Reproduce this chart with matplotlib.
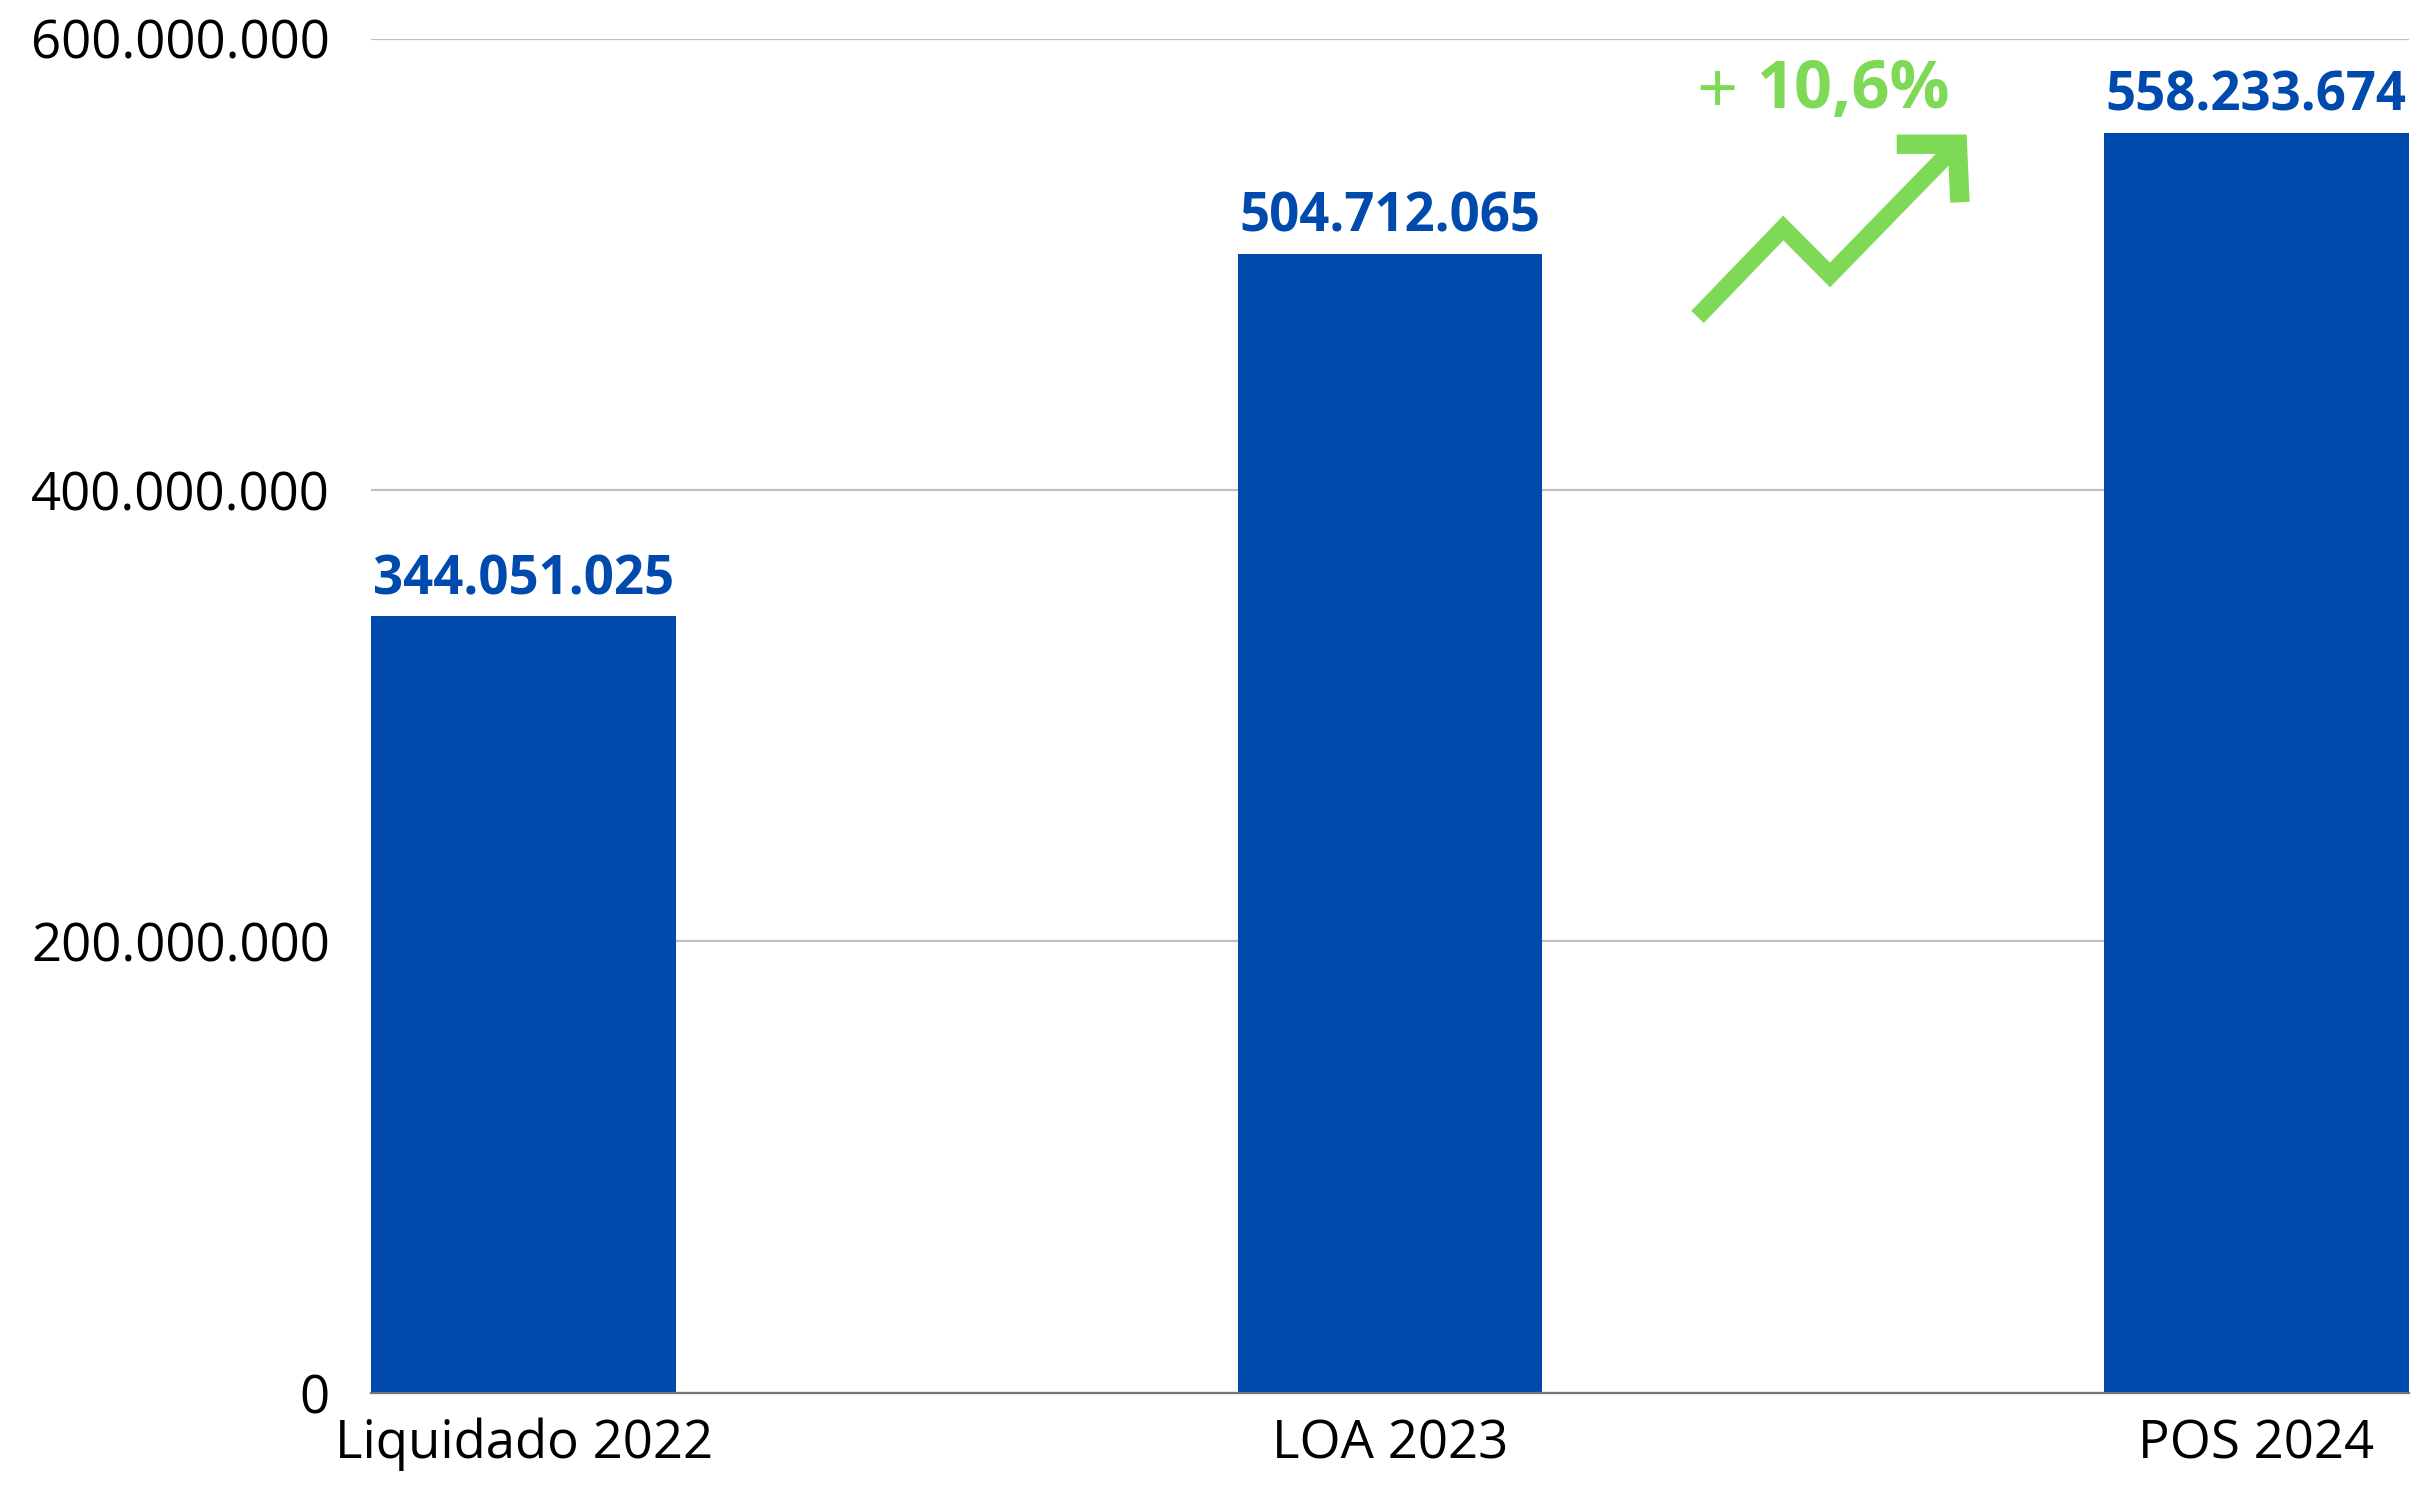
import matplotlib
matplotlib.use("Agg")
import matplotlib.pyplot as plt
from matplotlib.ticker import FuncFormatter

categories = ["Liquidado 2022", "LOA 2023", "POS 2024"]
values = [344051025, 504712065, 558233674]
value_labels = ["344.051.025", "504.712.065", "558.233.674"]
growth_label = "10,6%"
yticks = [0, 200000000, 400000000, 600000000]

blue = "#004AAD"
green = "#7ED957"
plt.rcParams['font.family'] = ['Open Sans', 'DejaVu Sans']

def thousands(v, pos):
    return f"{int(v):,}".replace(",", ".")

fig = plt.figure(figsize=(24.28, 14.85), dpi=100)
ax = fig.add_axes([0.153, 0.062, 0.839, 0.912])

w = 0.352
x = range(len(categories))
bars = ax.bar(x, values, width=w, color=blue, zorder=3)

for b, lab in zip(bars, value_labels):
    ax.annotate(lab, (b.get_x() + b.get_width() / 2, b.get_height()),
                xytext=(0, 16), textcoords="offset points",
                ha="center", va="baseline", fontsize=38, fontweight="bold",
                color=blue)

ax.set_xlim(-w / 2, len(categories) - 1 + w / 2)
ax.set_ylim(0, 600000000)
ax.set_yticks(yticks)
ax.yaxis.set_major_formatter(FuncFormatter(thousands))
ax.set_xticks(list(x))
ax.set_xticklabels(categories)
ax.tick_params(axis="y", length=0, pad=30, labelsize=38)
ax.tick_params(axis="x", length=0, pad=18, labelsize=38)
ax.grid(axis="y", color="#BFBFBF", linewidth=1.6, zorder=0)
for s in ["top", "right", "left"]:
    ax.spines[s].set_visible(False)
ax.spines["bottom"].set_color("#767676")
ax.spines["bottom"].set_linewidth(1.6)
ax.spines["bottom"].set_zorder(4)

# growth annotation: zigzag arrow between second and third bar
ax.plot([1.355, 1.454, 1.508, 1.655], [476.7e6, 516.1e6, 495.3e6, 553.2e6],
        color=green, linewidth=12.5, solid_capstyle="butt",
        solid_joinstyle="miter", zorder=5, clip_on=False)
ax.plot([1.585, 1.655, 1.658], [553.2e6, 553.2e6, 527.5e6],
        color=green, linewidth=14, solid_capstyle="butt",
        solid_joinstyle="miter", zorder=5, clip_on=False)
ax.text(1.378, 575.5e6, "+", fontsize=52, color=green, ha="center",
        va="center", zorder=5)
ax.text(1.423, 569.3e6, growth_label, fontsize=48, fontweight="bold",
        color=green, ha="left", va="baseline", zorder=5)

fig.savefig("out.png", dpi=100, facecolor="white")
